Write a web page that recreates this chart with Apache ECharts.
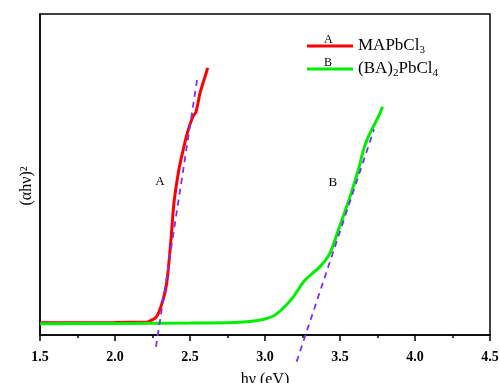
<!DOCTYPE html>
<html>
<head>
<meta charset="utf-8">
<script src="https://cdn.jsdelivr.net/npm/echarts@6/dist/echarts.min.js"></script>
<style>
  html, body { margin: 0; padding: 0; background: #fff; }
  #chart { width: 500px; height: 383px; }
</style>
</head>
<body>
<div id="chart"></div>
<script>
// photon energy (eV) and (αhν)² in arbitrary units (0..100 = plot height)
const redX = [1.5, 2.0, 2.2, 2.22, 2.277, 2.32, 2.345, 2.373, 2.393, 2.422, 2.444, 2.482, 2.518, 2.54, 2.567, 2.6, 2.618];
const redY = [3.8, 3.9, 4.0, 4.1, 5.7, 10.9, 16.2, 29.6, 41.1, 50.5, 55.5, 62.9, 67.9, 69.5, 75.4, 80.4, 83.2];

const greenX = [1.5, 2.0, 2.5, 2.8, 2.9, 3.0, 3.056, 3.122, 3.189, 3.267, 3.367, 3.433, 3.489, 3.567, 3.622, 3.656, 3.689, 3.722, 3.756, 3.784];
const greenY = [3.5, 3.6, 3.7, 3.9, 4.2, 5.0, 5.9, 8.4, 11.9, 17.1, 21.3, 25.5, 32.7, 43.1, 51.4, 57.6, 61.8, 64.9, 68.0, 71.1];

// linear fits (Tauc extrapolation)
const fitAX = [2.273, 2.547];
const fitAY = [-3.7, 79.4];
const fitBX = [3.211, 3.727];
const fitBY = [-8.3, 64.1];

const xTicks = { min: 1.5, max: 4.5, interval: 0.5 };
const curveLabels = [
  { name: "A", coord: [2.3, 47.7] },
  { name: "B", coord: [3.453, 47.4] },
];

const zip = (xs, ys) => xs.map((x, i) => [x, ys[i]]);
const serif = "'Liberation Serif', 'DejaVu Serif', serif";
const fitColor = "#7b2ff7";

const chart = echarts.init(document.getElementById("chart"));

chart.setOption({
  animation: false,
  grid: {
    left: 40, right: 10, top: 14, bottom: 48,
    outerBoundsMode: "none", containLabel: false,
    show: true, borderColor: "#000", borderWidth: 1.5,
  },
  legend: {
    left: 307, top: 36, orient: "vertical", padding: 0,
    itemWidth: 46, itemHeight: 3, itemGap: 3,
    icon: "rect",
    data: ["MAPbCl3", "(BA)2PbCl4"],
    formatter: (name) => name === "MAPbCl3"
      ? "{t|MAPbCl}{s|3}"
      : "{t|(BA)}{s|2}{t|PbCl}{s|4}",
    textStyle: {
      fontFamily: serif, color: "#000",
      rich: {
        t: { fontFamily: serif, fontSize: 17, color: "#000", lineHeight: 20 },
        s: { fontFamily: serif, fontSize: 11, color: "#000", lineHeight: 20, padding: [9, 0, 0, 0] },
      },
    },
  },
  graphic: [
    { type: "text", left: 324, top: 34, style: { text: "A", font: "12px " + serif, fill: "#000" } },
    { type: "text", left: 324, top: 57, style: { text: "B", font: "12px " + serif, fill: "#000" } },
    {
      type: "text", x: 27, y: 186, rotation: Math.PI / 2,
      style: { text: "(αhν)²", font: "16px " + serif, fill: "#000", align: "center", verticalAlign: "middle" },
    },
  ],
  xAxis: {
    type: "value",
    min: xTicks.min, max: xTicks.max, interval: xTicks.interval,
    name: "hν (eV)", nameLocation: "middle", nameGap: 37,
    nameTextStyle: { fontFamily: serif, fontSize: 16, color: "#000" },
    axisLine: { lineStyle: { color: "#000", width: 1.5 } },
    axisTick: { inside: false, length: 6, lineStyle: { color: "#000", width: 1.5 } },
    minorTick: { show: true, splitNumber: 2, length: 3, lineStyle: { color: "#000", width: 1.5 } },
    splitLine: { show: false },
    axisLabel: {
      fontFamily: serif, fontSize: 14, fontWeight: "bold", color: "#000", margin: 15,
      formatter: (v) => v.toFixed(1),
    },
  },
  yAxis: {
    type: "value", min: 0, max: 100,
    axisLine: { lineStyle: { color: "#000", width: 1.5 } },
    axisTick: { show: false },
    axisLabel: { show: false },
    splitLine: { show: false },
  },
  series: [
    {
      name: "MAPbCl3", type: "line", data: zip(redX, redY),
      smooth: 0.3, showSymbol: false, color: "#ff0000",
      lineStyle: { width: 3, color: "#ff0000" },
      z: 2,
    },
    {
      name: "(BA)2PbCl4", type: "line", data: zip(greenX, greenY),
      smooth: 0.3, showSymbol: false, color: "#00ee00",
      lineStyle: { width: 3, color: "#00ee00" },
      z: 3,
      markPoint: {
        symbol: "circle", symbolSize: 0,
        label: {
          show: true, formatter: (p) => p.name,
          fontFamily: serif, fontSize: 13, color: "#000",
        },
        data: curveLabels,
      },
    },
    {
      name: "fitA", type: "line", data: zip(fitAX, fitAY),
      showSymbol: false, clip: false, silent: true,
      lineStyle: { width: 1.8, color: fitColor, type: [6, 5] },
      z: 4,
    },
    {
      name: "fitB", type: "line", data: zip(fitBX, fitBY),
      showSymbol: false, clip: false, silent: true,
      lineStyle: { width: 1.8, color: fitColor, type: [6, 5] },
      z: 4,
    },
  ],
});
</script>
</body>
</html>
